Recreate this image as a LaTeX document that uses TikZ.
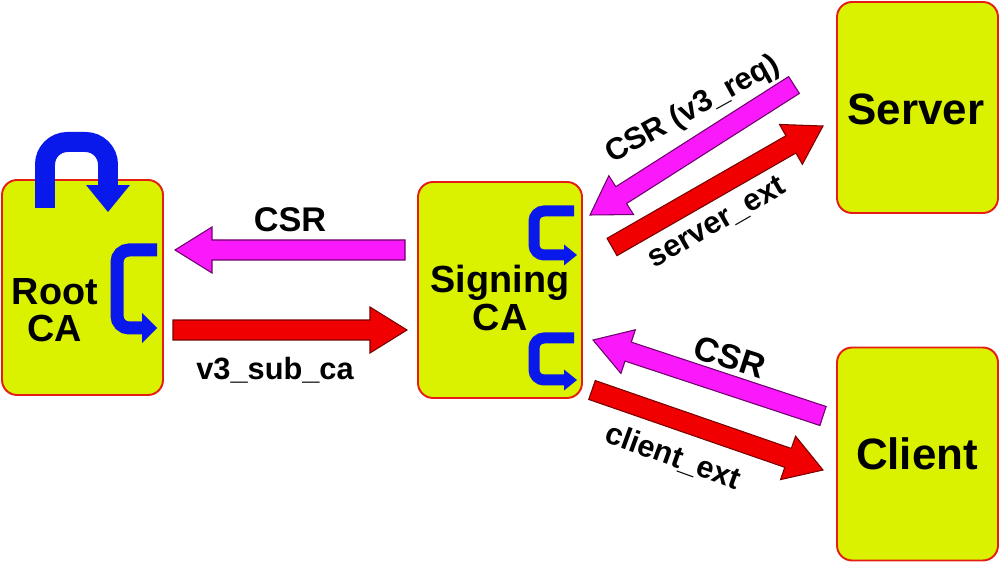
\documentclass[tikz,border=0pt]{standalone}
\usepackage{fontspec}
\setmainfont{Liberation Sans}
\usetikzlibrary{calc,arrows.meta}
\definecolor{boxfill}{RGB}{218,242,0}
\definecolor{boxline}{RGB}{228,30,20}
\definecolor{csrpink}{RGB}{250,25,250}
\definecolor{csrline}{RGB}{110,0,110}
\definecolor{extred}{RGB}{240,0,0}
\definecolor{extline}{RGB}{120,0,0}
\definecolor{loopblue}{RGB}{10,25,235}
\def\baS{0.2cm}
\def\baH{0.46cm}
\def\baL{0.74cm}
\newcommand\blockarrow[3]{%
  \coordinate (bah) at ($(#3)!\baL!(#2)$);
  \draw[#1] ($(#2)!\baS!90:(#3)$) -- ($(bah)!\baS!-90:(#2)$) -- ($(bah)!\baH!-90:(#2)$) -- (#3)
    -- ($(bah)!\baH!90:(#2)$) -- ($(bah)!\baS!90:(#2)$) -- ($(#2)!\baS!-90:(#3)$) -- cycle;
}
\begin{document}
\begin{tikzpicture}[x=0.02cm,y=-0.02cm,
  entity/.style={draw=boxline, line width=1.1pt, fill=boxfill, rounded corners=0.3cm, inner sep=0pt},
  boxtext/.style={font=\fontsize{21.5}{21.3}\selectfont\bfseries, align=center, inner sep=0pt},
  bigtext/.style={font=\fontsize{25}{27}\selectfont\bfseries, inner sep=0pt},
  lbl/.style={font=\fontsize{17.5}{20}\selectfont\bfseries, inner sep=0pt},
  lblcsr/.style={font=\fontsize{19.5}{22}\selectfont\bfseries, inner sep=0pt},
  csrarrow/.style={fill=csrpink, draw=csrline, line width=0.6pt, line join=miter},
  extarrow/.style={fill=extred, draw=extline, line width=0.6pt, line join=miter},
  bluebig/.style={draw=loopblue, line width=0.4cm, rounded corners=0.45cm,
    -{Triangle[length=0.54cm,width=0.88cm,line width=0pt]}},
  bluemid/.style={draw=loopblue, line width=0.26cm, rounded corners=0.24cm,
    -{Triangle[length=0.3cm,width=0.6cm,line width=0pt]}},
  bluesmall/.style={draw=loopblue, line width=0.22cm, rounded corners=0.2cm,
    -{Triangle[length=0.26cm,width=0.42cm,line width=0pt]}}
]
\useasboundingbox (0,0) rectangle (1000,563);
\fill[white] (0,0) rectangle (1000,563);

% entities
\node[entity, minimum width=3.22cm, minimum height=4.3cm] (root) at (82.5,287.5) {};
\node[entity, minimum width=3.28cm, minimum height=4.32cm] (sign) at (500,290) {};
\node[entity, minimum width=3.22cm, minimum height=4.22cm] (server) at (917.5,107.5) {};
\node[entity, minimum width=3.22cm, minimum height=4.26cm] (client) at (917.5,454) {};

% texts in boxes
\node[boxtext] (roottxt) at (55,310) {Root\\CA};
\node[boxtext] (signtxt) at (500,298) {Signing\\CA};
\node[bigtext] (servertxt) at (916,109) {Server};
\node[bigtext] (clienttxt) at (917,453.5) {Client};

% blue signing arrows
\draw[bluebig] (45,208) -- (45,142) -- (108,142) -- (108,212);
\draw[bluemid] (157,250) -- (117,250) -- (117,328) -- (157,328);
\draw[bluesmall] (574,211) -- (534,211) -- (534,255) -- (577,255);
\draw[bluesmall] (574,338) -- (534,338) -- (534,380) -- (577,380);

% arrow end points
\coordinate (c1tail) at (405,250);
\coordinate (c1tip) at (175,250);
\coordinate (e1tail) at (173,330);
\coordinate (e1tip) at (407,330);
\coordinate (c2tail) at (794,85);
\coordinate (c2tip) at (590,215);
\coordinate (e2tail) at (612,247);
\coordinate (e2tip) at (823,126);
\coordinate (c3tail) at (823,416);
\coordinate (c3tip) at (593,340);
\coordinate (e3tail) at (592,390);
\coordinate (e3tip) at (823,470);

\blockarrow{csrarrow}{c1tail}{c1tip}
\blockarrow{extarrow}{e1tail}{e1tip}
\blockarrow{csrarrow}{c2tail}{c2tip}
\blockarrow{extarrow}{e2tail}{e2tip}
\blockarrow{csrarrow}{c3tail}{c3tip}
\blockarrow{extarrow}{e3tail}{e3tip}

% labels
\node[lblcsr] (l1) at (290,220) {CSR};
\node[lbl] (l2) at (275,370) {v3\_sub\_ca};
\node[lbl, rotate=29] (l3) at (693,110) {CSR (v3\_req)};
\node[lbl, rotate=30] (l4) at (717,223) {server\_ext};
\node[lblcsr, rotate=-18] (l5) at (730,357) {CSR};
\node[lbl, rotate=-20] (l6) at (673,457) {client\_ext};
\end{tikzpicture}
\end{document}
